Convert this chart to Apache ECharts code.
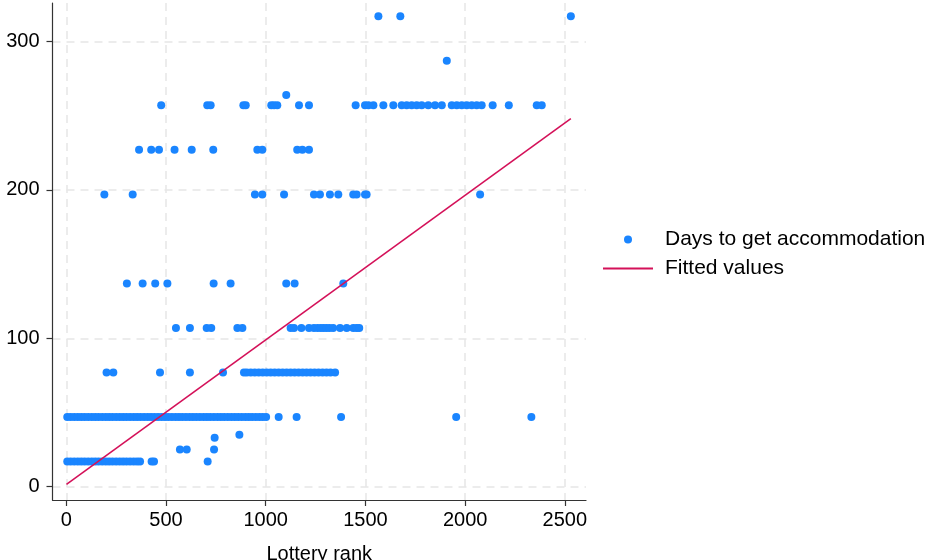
<!DOCTYPE html>
<html>
<head>
<meta charset="utf-8">
<script src="https://cdn.jsdelivr.net/npm/echarts@6/dist/echarts.min.js"></script>
<style>
  html, body { margin: 0; padding: 0; background: #fff; overflow: hidden; }
  #chart { width: 925px; height: 560px; }
</style>
</head>
<body>
<div id="chart"></div>
<script>
// ---- data ----
const dayLevels = [17, 25, 33, 35, 47, 77, 107, 137, 197, 227, 257, 264, 287, 317];
const ranksAt17 = [5, 22, 40, 58, 75, 92, 110, 128, 145, 162, 180, 198, 215, 232, 250, 268, 285, 302, 320, 338, 355, 370, 428, 440, 709];
const ranksAt25 = [570, 604, 741];
const ranksAt33 = [744];
const ranksAt35 = [868];
const ranksAt47 = [5, 22, 40, 58, 75, 92, 110, 128, 145, 162, 180, 198, 215, 232, 250, 268, 285, 302, 320, 338, 355, 372, 390, 408, 425, 442, 460, 478, 495, 512, 530, 548, 565, 582, 600, 618, 635, 652, 670, 688, 705, 722, 740, 758, 775, 792, 810, 828, 845, 862, 880, 898, 915, 932, 950, 968, 985, 1002, 1065, 1155, 1378, 1955, 2332];
const ranksAt77 = [202, 236, 470, 620, 786, 891, 905, 925, 945, 965, 985, 1005, 1025, 1045, 1065, 1085, 1105, 1125, 1145, 1165, 1185, 1205, 1225, 1245, 1265, 1285, 1305, 1325, 1348];
const ranksAt107 = [550, 620, 704, 727, 858, 883, 1125, 1142, 1179, 1217, 1242, 1260, 1276, 1290, 1305, 1320, 1338, 1373, 1406, 1439, 1456, 1469];
const ranksAt137 = [304, 383, 446, 507, 739, 824, 1103, 1145, 1389];
const ranksAt197 = [191, 333, 946, 983, 1092, 1242, 1272, 1322, 1364, 1439, 1456, 1498, 1506, 2075];
const ranksAt227 = [365, 426, 465, 543, 629, 737, 958, 983, 1158, 1184, 1217];
const ranksAt257 = [476, 707, 724, 888, 900, 1028, 1042, 1058, 1167, 1217, 1451, 1498, 1515, 1540, 1590, 1640, 1682, 1707, 1732, 1757, 1782, 1815, 1849, 1883, 1933, 1958, 1983, 2008, 2033, 2058, 2083, 2138, 2219, 2359, 2384];
const ranksAt264 = [1103];
const ranksAt287 = [1908];
const ranksAt317 = [1565, 1675, 2530];

const fittedRank = [1, 2530];
const fittedDays = [1.5, 248];

const xTicks = [0, 500, 1000, 1500, 2000, 2500];
const yTicks = [0, 100, 200, 300];

const rankGroups = [ranksAt17, ranksAt25, ranksAt33, ranksAt35, ranksAt47, ranksAt77, ranksAt107,
  ranksAt137, ranksAt197, ranksAt227, ranksAt257, ranksAt264, ranksAt287, ranksAt317];

const scatterData = [];
rankGroups.forEach((ranks, i) => ranks.forEach(r => scatterData.push([r, dayLevels[i]])));
const fitData = fittedRank.map((r, i) => [r, fittedDays[i]]);

const FONT = 'Arial, "Liberation Sans", Helvetica, sans-serif';
const gridLine = { show: true, lineStyle: { color: '#e6e6e6', width: 1.5, type: [8, 6] } };

const chart = echarts.init(document.getElementById('chart'), null, { renderer: 'canvas', width: 925, height: 560 });
chart.setOption({
  animation: false,
  backgroundColor: '#ffffff',
  textStyle: { fontFamily: FONT },
  grid: { left: 52.5, right: 339, top: 3, bottom: 60, containLabel: false, outerBoundsMode: 'none' },
  xAxis: {
    type: 'value',
    min: -69, max: 2606,
    name: 'Lottery rank',
    nameLocation: 'middle',
    nameGap: 44,
    nameTextStyle: { fontSize: 20, color: '#000', fontFamily: FONT },
    axisLine: { show: true, onZero: false, lineStyle: { color: '#333', width: 1.2 } },
    axisTick: { show: true, length: 6, customValues: xTicks, lineStyle: { color: '#333', width: 1.2 } },
    axisLabel: { customValues: xTicks, fontSize: 20, color: '#000', margin: 10, fontFamily: FONT,
      formatter: v => String(v) },
    splitLine: gridLine
  },
  yAxis: {
    type: 'value',
    min: -9, max: 326,
    axisLine: { show: true, onZero: false, lineStyle: { color: '#333', width: 1.2 } },
    axisTick: { show: true, length: 6, customValues: yTicks, lineStyle: { color: '#333', width: 1.2 } },
    axisLabel: { customValues: yTicks, fontSize: 20, color: '#000', margin: 13, fontFamily: FONT,
      formatter: v => String(v) },
    splitLine: gridLine
  },
  legend: {
    orient: 'vertical',
    left: 602, top: 229,
    padding: 0,
    itemWidth: 50, itemHeight: 8,
    itemGap: 8,
    textStyle: { fontSize: 21, color: '#000', lineHeight: 21, fontFamily: FONT, padding: [0, 0, 0, 7] },
    data: [
      { name: 'Days to get accommodation', icon: 'circle' },
      { name: 'Fitted values', itemStyle: { opacity: 0 } }
    ]
  },
  series: [
    {
      name: 'Days to get accommodation',
      type: 'scatter',
      data: scatterData,
      symbol: 'circle',
      symbolSize: 8,
      itemStyle: { color: '#1a85ff', opacity: 1 },
      z: 2
    },
    {
      name: 'Fitted values',
      type: 'line',
      data: fitData,
      symbol: 'none',
      showSymbol: false,
      lineStyle: { color: '#d41159', width: 1.6 },
      itemStyle: { color: '#d41159' },
      z: 3
    }
  ]
});
</script>
</body>
</html>
